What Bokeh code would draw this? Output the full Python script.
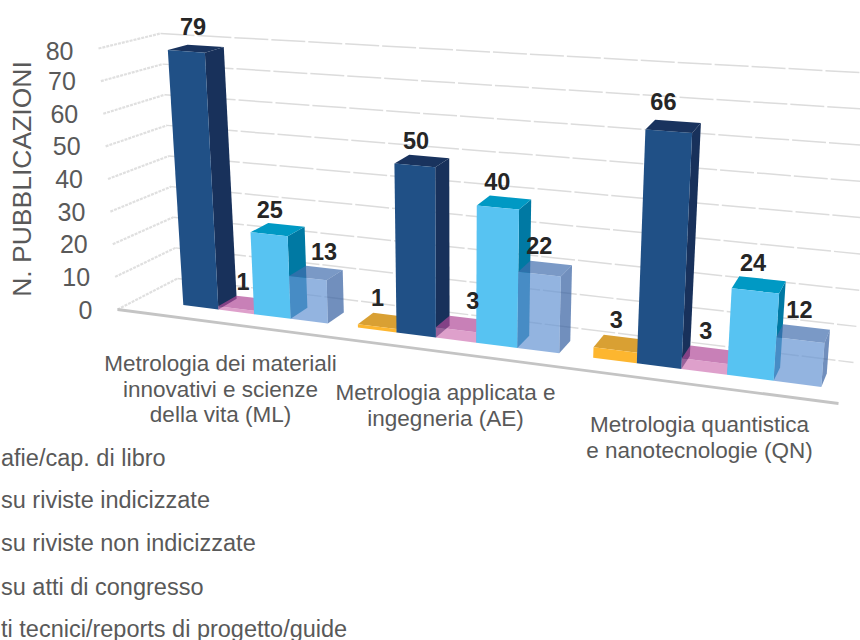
from bokeh.plotting import figure
from bokeh.models import Range1d
from bokeh.core.properties import value
from bokeh.embed import file_html
from bokeh.resources import INLINE

# ---------- data ----------
categories = [
    ["Metrologia dei materiali", "innovativi e scienze", "della vita (ML)"],
    ["Metrologia applicata e", "ingegneria (AE)"],
    ["Metrologia quantistica", "e nanotecnologie (QN)"],
]
# the legend as the picture shows it: its left part lies beyond the picture's edge
legend_texts = [
    "afie/cap. di libro",
    "su riviste indicizzate",
    "su riviste non indicizzate",
    "su atti di congresso",
    "ti tecnici/reports di progetto/guide",
]
series_a = [0, 1, 3]
series_b = [79, 50, 66]
series_c = [1, 3, 3]
series_d = [25, 40, 24]
series_e = [13, 22, 12]
all_series = [series_a, series_b, series_c, series_d, series_e]
y_ticks = [0, 10, 20, 30, 40, 50, 60, 70, 80]
y_title = "N. PUBBLICAZIONI"

# ---------- styles: (front, side, top, alpha) ----------
styles = [
    ("#fdb62f", "#c98a1c", "#d9a033", 1.0),
    ("#205086", "#18315b", "#19335e", 1.0),
    ("#d077b5", "#a02a9a", "#b04a98", 0.7),
    ("#57c3f2", "#0079a3", "#0099c4", 1.0),
    ("#6594d3", "#3460a1", "#416dae", 0.7),
]

# ---------- box projection (screen px of the chart's 3D scene) ----------
VMAX = 80.0
FORESHORTEN = 1.2
FL0, FR0, BL0, BR0 = (117, 309), (838, 403), (177, 278), (853, 362)
FL1, FR1, BL1, BR1 = (98, 48), (860, 105), (160, 33), (876, 73)


def lerp(a, b, k):
    return (a[0] + (b[0] - a[0]) * k, a[1] + (b[1] - a[1]) * k)


def project(t, w, v):
    f = t / (t + FORESHORTEN * (1 - t))
    low = lerp(lerp(FL0, FR0, f), lerp(BL0, BR0, f), w)
    high = lerp(lerp(FL1, FR1, f), lerp(BL1, BR1, f), w)
    return lerp(low, high, v / VMAX)


p = figure(width=860, height=640, output_backend="svg", toolbar_location=None,
           x_range=Range1d(0, 860), y_range=Range1d(640, 0),
           min_border=0, outline_line_color=None, background_fill_color="white")
p.axis.visible = False
p.grid.visible = False

# ---------- gridlines ----------
for v in y_ticks:
    a, b, c = project(0, 0, v), project(0, 1, v), project(1, 1, v)
    p.line([a[0], b[0]], [a[1], b[1]], line_color="#e0e0e0", line_width=2.2, line_dash="3 1")
    p.line([b[0], c[0]], [b[1], c[1]], line_color="#dcdcdc", line_width=1.5, line_dash="34 3")
f0, f1 = project(0, 0, 0), project(1, 0, 0)
p.line([f0[0], f1[0]], [f0[1], f1[1]], line_color="#c4c4c4", line_width=2.8)

# ---------- bars ----------
GROUP_SHARE = 0.863
DEPTH = (1 / 3, 2 / 3)
T_SHIFT = -0.0035
period = 1 / len(categories)
pad = period * (1 - GROUP_SHARE) / 2
bw = period * GROUP_SHARE / len(all_series)

xs, ys, cols, alphas = [], [], [], []
lab_x, lab_y, lab_t = [], [], []
# fine shift (x, y) of single value labels, keyed by (category, series)
nudge = {
    (0, 1): (4, 1), (0, 2): (5, 1), (0, 3): (-1, 3), (0, 4): (15, 2),
    (1, 0): (0, 0), (1, 1): (1, 2), (1, 2): (17, 0), (1, 3): (0, 2), (1, 4): (1, 0),
    (2, 0): (3, -1), (2, 1): (-3, -2), (2, 2): (4, -1), (2, 3): (1, 1), (2, 4): (3, -1),
}
for c in range(len(categories)):
    for s, vals in enumerate(all_series):
        val = vals[c]
        if val == 0:
            continue
        t0 = c * period + pad + s * bw + T_SHIFT
        t1 = t0 + bw
        w0, w1 = DEPTH
        A, B = project(t0, w0, 0), project(t1, w0, 0)
        C, D = project(t0, w0, val), project(t1, w0, val)
        E, F = project(t1, w1, 0), project(t1, w1, val)
        G = project(t0, w1, val)
        front, side, top, al = styles[s]
        for poly, col in (((B, E, F, D), side), ((C, D, F, G), top), ((A, B, D, C), front)):
            xs.append([q[0] for q in poly])
            ys.append([q[1] for q in poly])
            cols.append(col)
            alphas.append(al)
        cx = (C[0] + D[0] + F[0] + G[0]) / 4
        cy = (C[1] + D[1] + F[1] + G[1]) / 4
        dx, dy = nudge.get((c, s), (0, 0))
        lab_x.append(cx - 7 + dx)
        lab_y.append(cy - 23 + dy)
        lab_t.append(str(val))

p.patches(xs, ys, fill_color=cols, fill_alpha=alphas, line_color=None)
p.text(lab_x, lab_y, text=lab_t, text_font=value("Liberation Sans"), text_font_style="bold",
       text_font_size="23.5px", text_color="#262626", text_align="center", text_baseline="middle")

# ---------- value axis ----------
tx, ty, tt = [], [], []
for v in y_ticks:
    q = project(0, 0, v)
    tx.append(q[0] - 25)
    ty.append(q[1] + (2 if v == 80 else 0))
    tt.append(str(v))
p.text(tx, ty, text=tt, text_font=value("Liberation Sans"), text_font_size="25px",
       text_color="#595959", text_align="right", text_baseline="middle")
p.text([21.5], [178.5], text=[y_title], angle=1.5708, text_font=value("Liberation Sans"),
       text_font_size="26.5px", text_color="#595959", text_align="center", text_baseline="middle")

# ---------- category labels ----------
cat_pos = [(220, 363), (445, 392), (699, 424)]
LINE = 25.5
cx_, cy_, ct_ = [], [], []
for (x0, y0), lines in zip(cat_pos, categories):
    for i, line in enumerate(lines):
        cx_.append(x0)
        cy_.append(y0 + i * LINE)
        ct_.append(line)
p.text(cx_, cy_, text=ct_, text_font=value("Liberation Sans"), text_font_size="22.5px",
       text_color="#595959", text_align="center", text_baseline="middle")

# ---------- legend ----------
leg_y = [457, 499, 542, 586, 628]
p.text([0.5] * 5, leg_y, text=legend_texts, text_font=value("Liberation Sans"),
       text_font_size="23.5px", text_color="#595959", text_align="left", text_baseline="middle")

open("out.html", "w").write(file_html(p, INLINE))
